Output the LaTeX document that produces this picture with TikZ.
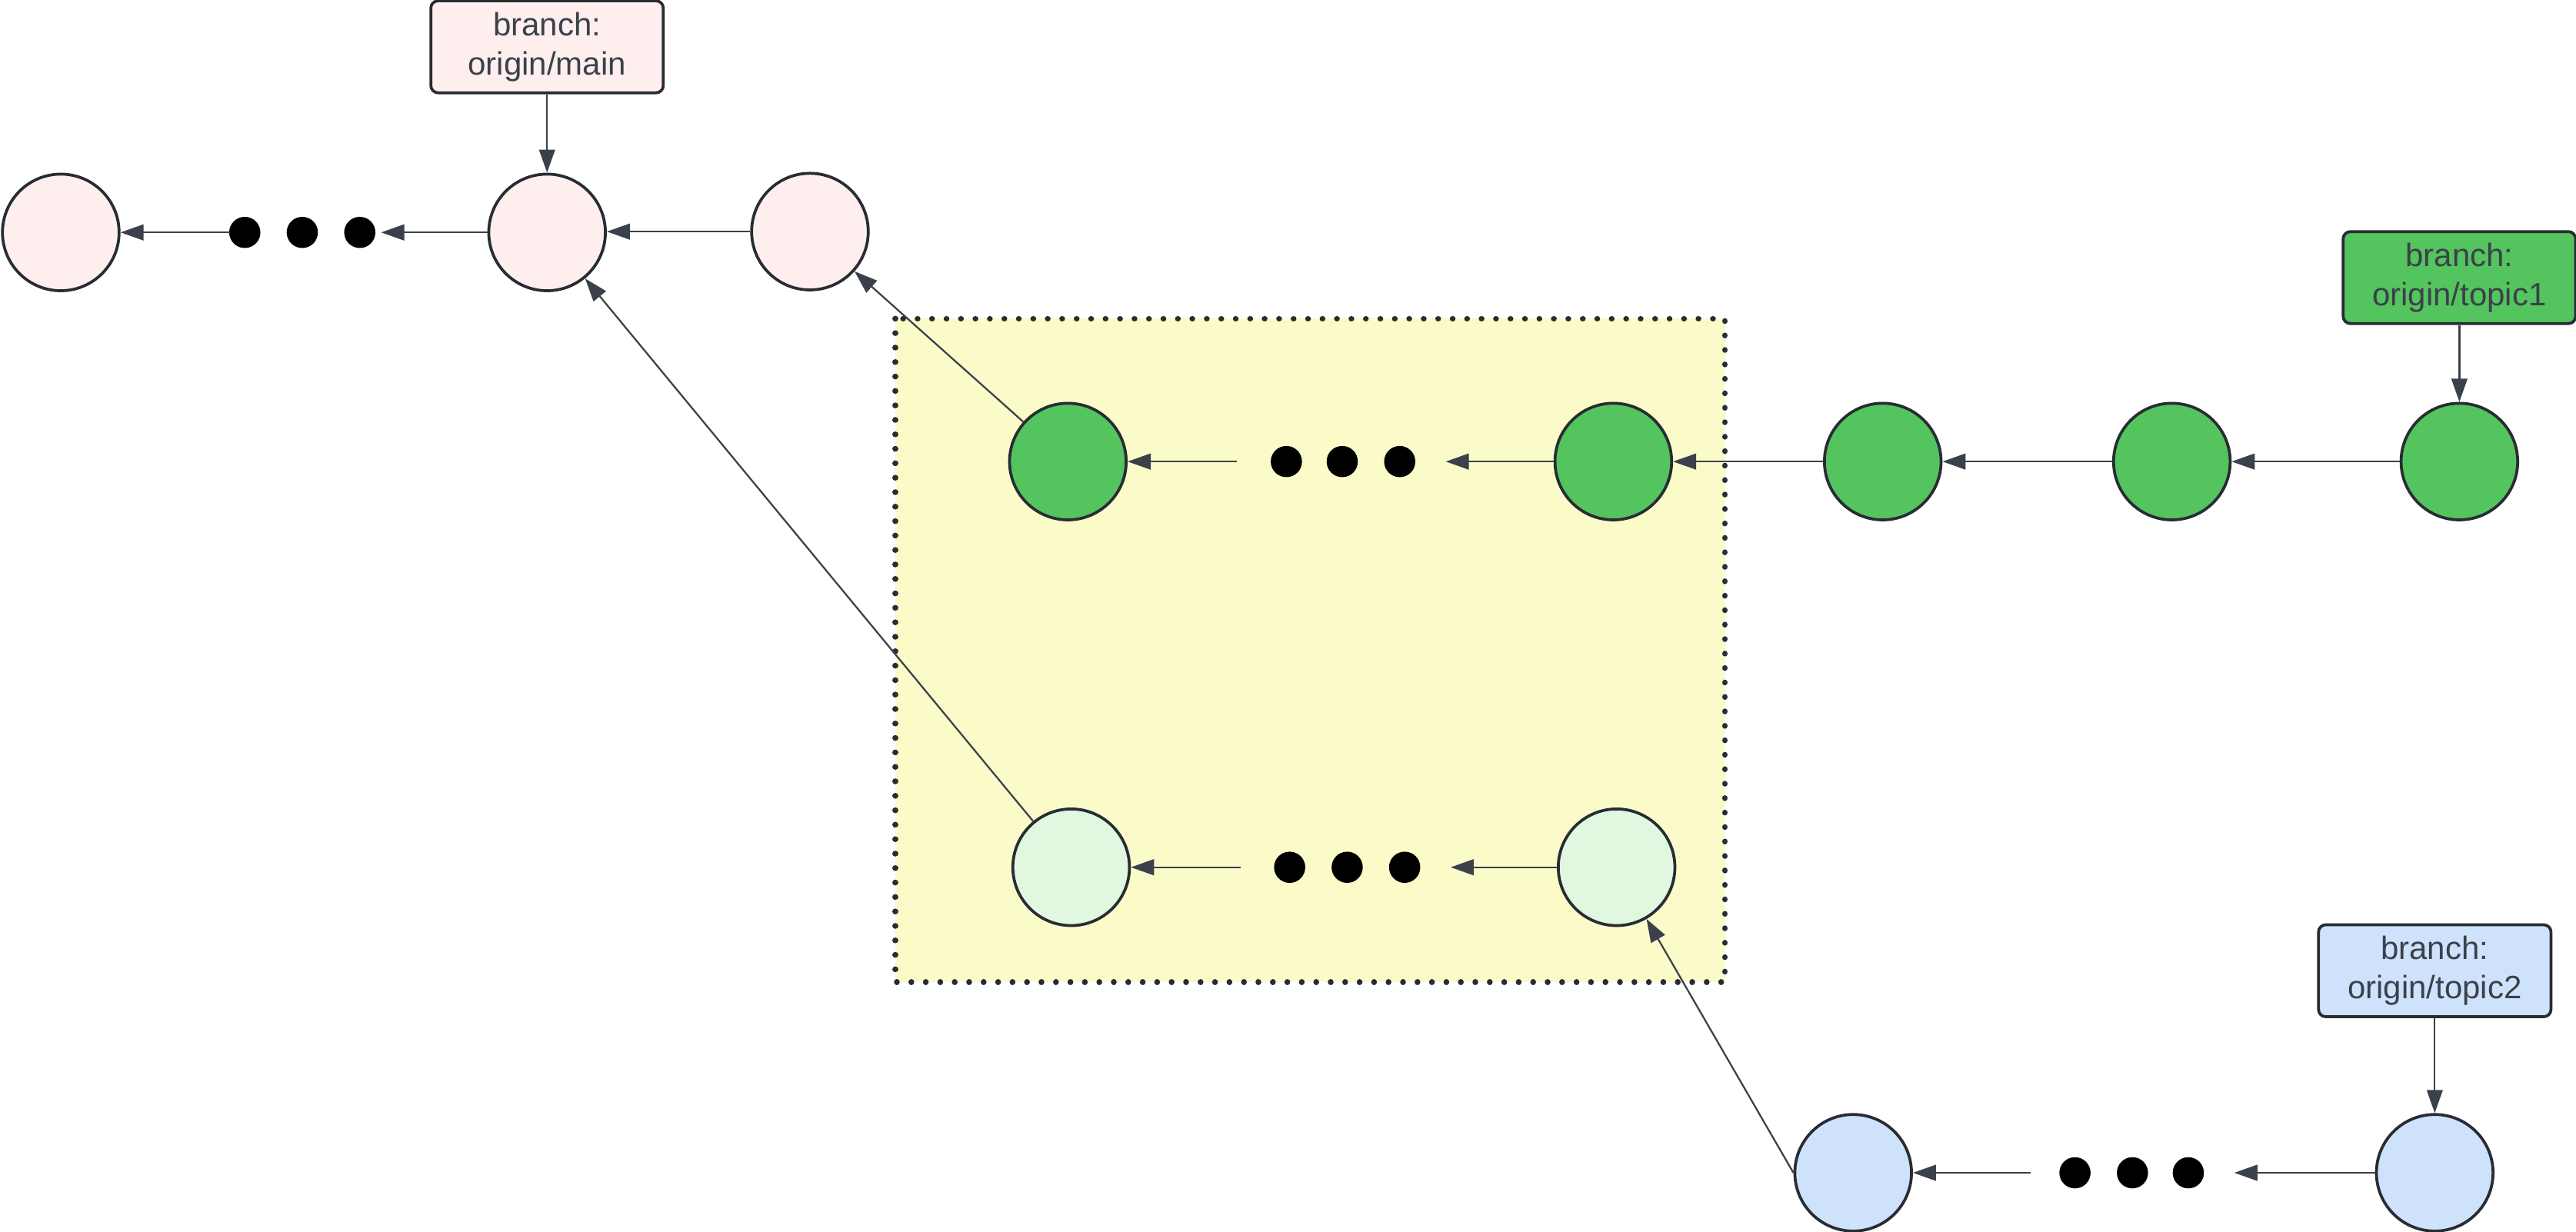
\documentclass[tikz,border=0pt]{standalone}
\usepackage{fontspec}
\setmainfont{Liberation Sans}
\usetikzlibrary{arrows.meta}
\definecolor{pinkfill}{HTML}{FEEFEE}
\definecolor{greenfill}{HTML}{54C45E}
\definecolor{lgreenfill}{HTML}{E1F8E0}
\definecolor{bluefill}{HTML}{CFE2FC}
\definecolor{yellowfill}{HTML}{FBFBC9}
\definecolor{edgec}{HTML}{282C33}
\definecolor{arrowc}{HTML}{3A414A}
\definecolor{textc}{HTML}{3A414A}
\begin{document}
\begin{tikzpicture}[x=0.02cm,y=-0.02cm,
  commit/.style={circle,draw=edgec,line width=1pt,minimum size=1.42cm,inner sep=0pt},
  dotn/.style={circle,fill=black,minimum size=0.38cm,inner sep=0pt},
  branchbox/.style={draw=edgec,line width=1pt,rounded corners=2.5pt,minimum width=2.83cm,minimum height=1.12cm,align=center,text=textc,font=\fontsize{11.2}{13.5}\selectfont,inner sep=0pt},
  link/.style={draw=arrowc,line width=0.6pt,-{Triangle[length=8pt,width=5.5pt]}},
  dottedframe/.style={draw=edgec,line width=2pt,line cap=round,dash pattern=on 0.01pt off 5pt}
]
\useasboundingbox (0,0) rectangle (1568,750);

% highlighted region
\fill[yellowfill] (545,194) rectangle (1050,598);
\draw[dottedframe] (545,194) rectangle (1050,598);

% main chain
\node[commit,fill=pinkfill] (C1) at (37,141.5) {};
\node[dotn] (m1) at (149,141.5) {};
\node[dotn] (m2) at (184,141.5) {};
\node[dotn] (m3) at (219,141.5) {};
\node[commit,fill=pinkfill] (C2) at (333,141.5) {};
\node[commit,fill=pinkfill] (C3) at (493,141) {};
\node[branchbox,fill=pinkfill] (Lmain) at (333,28.5) {branch:\\origin/main};
\coordinate (mIn) at (232,141.5);
\coordinate (mOut) at (140,141.5);

% topic1 chain
\node[commit,fill=greenfill] (G1) at (650,281) {};
\node[dotn] (g1) at (783,281) {};
\node[dotn] (g2) at (817,281) {};
\node[dotn] (g3) at (852,281) {};
\node[commit,fill=greenfill] (G2) at (982,281) {};
\node[commit,fill=greenfill] (G3) at (1146,281) {};
\node[commit,fill=greenfill] (G4) at (1322,281) {};
\node[commit,fill=greenfill] (G5) at (1497,281) {};
\node[branchbox,fill=greenfill] (Ltopic1) at (1497,169) {branch:\\origin/topic1};
\coordinate (gIn) at (880,281);
\coordinate (gOut) at (753,281);

% light green chain
\node[commit,fill=lgreenfill] (L1) at (652,528) {};
\node[dotn] (l1) at (785,528) {};
\node[dotn] (l2) at (820,528) {};
\node[dotn] (l3) at (855,528) {};
\node[commit,fill=lgreenfill] (L2) at (984,528) {};
\coordinate (lIn) at (883,528);
\coordinate (lOut) at (755,528);

% topic2 chain
\node[commit,fill=bluefill] (B1) at (1128,714) {};
\node[dotn] (b1) at (1263,714) {};
\node[dotn] (b2) at (1298,714) {};
\node[dotn] (b3) at (1332,714) {};
\node[commit,fill=bluefill] (B2) at (1482,714) {};
\node[branchbox,fill=bluefill] (Ltopic2) at (1482,591) {branch:\\origin/topic2};
\coordinate (bIn) at (1360,714);
\coordinate (bOut) at (1236,714);

% connectors
\draw[link] (Lmain) -- (C2);
\draw[link] (C2) -- (mIn);
\draw[link] (mOut) -- (C1);
\draw[link] (C3.west) -- (C3.west -| C2.east);
\draw[link] (G1) -- (C3);
\draw[link] (L1) -- (C2);

\draw[link] (Ltopic1) -- (G5);
\draw[link] (G5) -- (G4);
\draw[link] (G4) -- (G3);
\draw[link] (G3) -- (G2);
\draw[link] (G2) -- (gIn);
\draw[link] (gOut) -- (G1);

\draw[link] (L2) -- (lIn);
\draw[link] (lOut) -- (L1);

\draw[link] (Ltopic2) -- (B2);
\draw[link] (B2) -- (bIn);
\draw[link] (bOut) -- (B1);
\draw[link] (B1.west) -- (L2);
\end{tikzpicture}
\end{document}
